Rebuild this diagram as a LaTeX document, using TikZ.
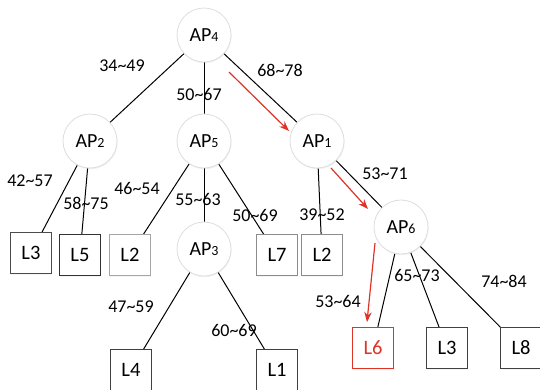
\documentclass[tikz,border=0pt]{standalone}
\usepackage{fontspec}
\setmainfont{Carlito}
\usetikzlibrary{arrows.meta,shadows}
\pgfdeclarelayer{background}
\pgfsetlayers{background,main}
\newcommand{\apname}[1]{AP\raisebox{-0.5pt}{\fontsize{14}{14}\selectfont #1}}
\newcommand{\rng}[2]{#1\textasciitilde#2}
\begin{document}
\begin{tikzpicture}[x=1pt,y=-1pt,
  ap/.style={circle, draw=black!13, line width=0.8pt, fill=white,
    minimum size=54pt, inner sep=0pt, font=\fontsize{20}{24}\selectfont,
    drop shadow={opacity=0.12, shadow xshift=0.6pt, shadow yshift=-1.2pt}},
  lbox/.style={rectangle, draw=#1, line width=0.9pt, fill=white,
    minimum size=41pt, inner sep=0pt, font=\fontsize{20.5}{24}\selectfont,
    drop shadow={opacity=0.08, shadow xshift=0.6pt, shadow yshift=-1pt}},
  lbox/.default={black!75},
  link/.style={draw=black, line width=1pt},
  route/.style={draw=routered, line width=1.2pt, -{Stealth[length=10pt,width=7.5pt]}},
  rlabel/.style={font=\fontsize{18}{20}\selectfont, inner sep=0pt},
]
\definecolor{routered}{RGB}{222,52,40}
\useasboundingbox (0,0) rectangle (540,389);
\clip (0,0) rectangle (540,389);

% access points
\node[ap] (ap4) at (204,35)  {\apname{4}};
\node[ap] (ap2) at (90,141)  {\apname{2}};
\node[ap] (ap5) at (204,141) {\apname{5}};
\node[ap] (ap1) at (317,141) {\apname{1}};
\node[ap] (ap3) at (204,249) {\apname{3}};
\node[ap] (ap6) at (401,227) {\apname{6}};

% leaves
\node[lbox=black!70] (l3a) at (31,253)  {L3};
\node[lbox=black!80] (l5)  at (80,255)  {L5};
\node[lbox=black!35] (l2a) at (130,255) {L2};
\node[lbox=black!45] (l7)  at (277,255) {L7};
\node[lbox=black!45] (l2b) at (322,255) {L2};
\node[lbox=black!75] (l4)  at (131,370) {L4};
\node[lbox=black!75] (l1)  at (277,370) {L1};
\node[lbox=routered, text=routered] (l6) at (373,348) {L6};
\node[lbox=black!75] (l3b) at (447,348) {L3};
\node[lbox=black!75] (l8)  at (521,348) {L8};

% links, kept behind the nodes
\begin{pgfonlayer}{background}
\draw[link] (ap4) -- (ap2);
\draw[link] (ap4) -- (ap5);
\draw[link] (ap4) -- (ap1);
\draw[link] (ap2) -- (l3a);
\draw[link] (ap2) -- (l5);
\draw[link] (ap5) -- (l2a);
\draw[link] (ap5) -- (ap3);
\draw[link] (ap5) -- (l7);
\draw[link] (ap1) -- (l2b);
\draw[link] (ap1) -- (ap6);
\draw[link] (ap3) -- (l4);
\draw[link] (ap3) -- (l1);
\draw[link] (ap6) -- (l6);
\draw[link] (ap6) -- (l3b);
\draw[link] (ap6) -- (l8);
\end{pgfonlayer}

% route taken
\coordinate (r1s) at (229,72);  \coordinate (r1e) at (289,131);
\coordinate (r2s) at (331,168); \coordinate (r2e) at (368,209);
\coordinate (r3s) at (375,243); \coordinate (r3e) at (367,322);
\draw[route] (r1s) -- (r1e);
\draw[route] (r2s) -- (r2e);
\draw[route] (r3s) -- (r3e);

% link labels
\node[rlabel] (t1)  at (122,66)  {\rng{34}{49}};
\node[rlabel] (t2)  at (199,94)  {\rng{50}{67}};
\node[rlabel] (t3)  at (280,70)  {\rng{68}{78}};
\node[rlabel] (t4)  at (30,181)  {\rng{42}{57}};
\node[rlabel] (t5)  at (86,203)  {\rng{58}{75}};
\node[rlabel] (t6)  at (137,188) {\rng{46}{54}};
\node[rlabel] (t7)  at (198,199) {\rng{55}{63}};
\node[rlabel] (t8)  at (255,215) {\rng{50}{69}};
\node[rlabel] (t9)  at (322,215) {\rng{39}{52}};
\node[rlabel] (t10) at (385,174) {\rng{53}{71}};
\node[rlabel] (t11) at (417,275) {\rng{65}{73}};
\node[rlabel] (t12) at (504,281) {\rng{74}{84}};
\node[rlabel] (t13) at (338,301) {\rng{53}{64}};
\node[rlabel] (t14) at (131,307) {\rng{47}{59}};
\node[rlabel] (t15) at (234,330) {\rng{60}{69}};
\end{tikzpicture}
\end{document}
